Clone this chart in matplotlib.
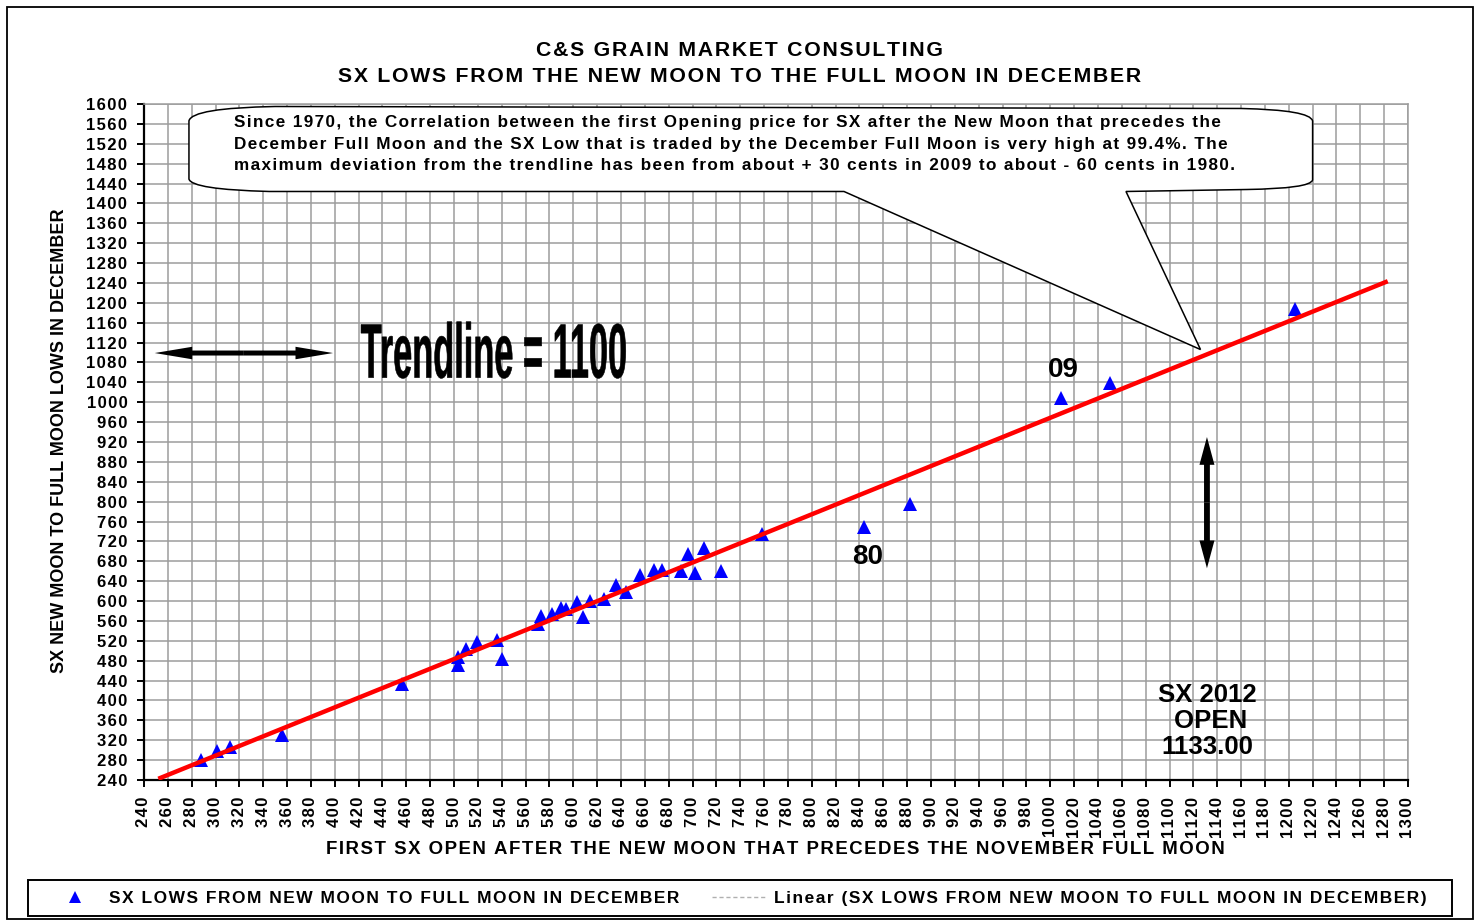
import matplotlib

matplotlib.use("Agg")
import matplotlib.pyplot as plt
import matplotlib.transforms as mtransforms
import numpy as np
from matplotlib.font_manager import FontProperties
from matplotlib.lines import Line2D
from matplotlib.patches import FancyArrowPatch, PathPatch, Rectangle
from matplotlib.path import Path
from matplotlib.textpath import TextPath

OUT_PNG = "out.png"

# first SX open after the new moon (x) vs SX low into the December full moon (y)
sx_open = [288, 301.5, 312, 356, 456, 503, 503, 510, 519, 536, 540, 570, 573,
           582, 590, 594, 603, 608, 614, 626, 636, 644, 656, 668, 674, 690,
           696, 702, 710, 724, 758, 844, 882, 1009, 1050, 1205]
sx_low = [280, 299, 306, 331, 433, 488, 471, 503, 518, 522, 483, 553, 570,
          574, 587, 585, 599, 567, 601, 604, 632, 619, 652, 662, 662, 661,
          694, 657, 706, 660, 734, 748, 796, 1008, 1039, 1188]

# linear trendline is drawn with a backward / forward forecast
trend_x = [252, 1283]

x_ticks = list(range(240, 1301, 20))
y_ticks = list(range(240, 1601, 40))

title_lines = ["C&S GRAIN MARKET CONSULTING",
               "SX LOWS FROM THE NEW MOON TO THE FULL MOON IN DECEMBER"]
x_title = "FIRST SX OPEN AFTER THE NEW MOON THAT PRECEDES THE NOVEMBER FULL MOON"
y_title = "SX NEW MOON TO FULL MOON LOWS IN DECEMBER"
series_name = "SX LOWS FROM NEW MOON TO FULL MOON IN DECEMBER"
note_lines = [
    "Since 1970, the Correlation between the first Opening price for SX after the New Moon that precedes the",
    "December Full Moon and the SX Low that is traded by the December Full Moon is very high at 99.4%. The",
    "maximum deviation from the trendline has been from about + 30 cents in 2009 to about - 60 cents in 1980.",
]

FONT = ["Liberation Sans", "DejaVu Sans"]
HAIR = "\u200a"


def spaced(text, gap=HAIR):
    return gap.join(text)


def draw_bubble(ax):
    verts = [
        (277.7, 1566), (280, 1592), (350, 1595),
        (1160, 1591),
        (1218, 1588), (1220, 1566),
        (1220, 1447),
        (1218, 1430), (1165, 1428),
        (1063.5, 1424),
        (1126, 1106),
        (827, 1424),
        (345, 1424),
        (280, 1428), (277.7, 1449),
        (277.7, 1566),
    ]
    codes = [Path.MOVETO, Path.CURVE3, Path.CURVE3,
             Path.LINETO,
             Path.CURVE3, Path.CURVE3,
             Path.LINETO,
             Path.CURVE3, Path.CURVE3,
             Path.LINETO, Path.LINETO, Path.LINETO, Path.LINETO,
             Path.CURVE3, Path.CURVE3,
             Path.CLOSEPOLY]
    ax.add_patch(PathPatch(Path(verts, codes), facecolor="white", edgecolor="black",
                           lw=1.1, zorder=3, clip_on=False))
    ax.text(315.5, 1519.5, "\n".join(spaced(s) for s in note_lines), ha="left", va="center",
            fontsize=12.3, fontweight="bold", family=FONT, linespacing=1.58, zorder=4)


def draw_squeezed_text(ax, text, x0, x1, y0, y1):
    # word-art style text: squeezed horizontally into a fixed box
    tp = TextPath((0, 0), text, size=100, prop=FontProperties(family="Liberation Sans", weight="bold"))
    ext = tp.get_extents()
    tr = (mtransforms.Affine2D().translate(-ext.x0, -ext.y0)
          .scale((x1 - x0) / ext.width, (y1 - y0) / ext.height)
          .translate(x0, y0) + ax.transData)
    ax.add_patch(PathPatch(tp, transform=tr, facecolor="black", edgecolor="black", lw=0.4, zorder=5))


def double_arrow(ax, p0, p1, head_length, head_width, tail_width):
    mid = ((p0[0] + p1[0]) / 2, (p0[1] + p1[1]) / 2)
    style = f"simple,head_length={head_length},head_width={head_width},tail_width={tail_width}"
    for end in (p0, p1):
        ax.add_patch(FancyArrowPatch(mid, end, arrowstyle=style, mutation_scale=10,
                                     shrinkA=0, shrinkB=0, lw=0, color="black", zorder=5))


def main():
    fig = plt.figure(figsize=(14.79, 9.24), dpi=100)
    ax = fig.add_axes([144 / 1479, 1 - 780 / 924, (1408 - 144) / 1479, (780 - 104) / 924])

    ax.set_xlim(240, 1300)
    ax.set_ylim(240, 1600)
    ax.set_xticks(x_ticks)
    ax.set_yticks(y_ticks)
    ax.set_xticklabels([spaced(str(v)) for v in x_ticks], rotation=90,
                       fontsize=12, fontweight="bold", family=FONT)
    ax.set_yticklabels([spaced(str(v)) for v in y_ticks],
                       fontsize=12, fontweight="bold", family=FONT)
    ax.tick_params(direction="out", length=5, width=1.4, color="black", pad=7)
    ax.grid(True, color="#9c9c9c", lw=1.1)
    ax.set_axisbelow(True)
    for side in ["top", "right"]:
        ax.spines[side].set_color("#9c9c9c")
        ax.spines[side].set_linewidth(1.1)
    for side in ["left", "bottom"]:
        ax.spines[side].set_color("black")
        ax.spines[side].set_linewidth(1.6)

    ax.plot(sx_open, sx_low, ls="none", marker="^", ms=10, color="#0000FF",
            markeredgewidth=0, zorder=4, clip_on=False)

    slope, intercept = np.polyfit(sx_open, sx_low, 1)
    trend_y = [slope * v + intercept for v in trend_x]
    ax.plot(trend_x, trend_y, color="#FF0000", lw=3.2, solid_capstyle="butt", zorder=5)

    draw_bubble(ax)
    draw_squeezed_text(ax, "Trendline = 1100", 422, 644, 1048, 1162)

    double_arrow(ax, (249, 1099), (398.5, 1099), 2.7, 0.9, 0.36)
    double_arrow(ax, (1131.4, 930), (1131.4, 666), 2.0, 1.08, 0.42)

    ax.text(1010.6, 1065, "09", ha="center", va="center", fontsize=20,
            fontweight="bold", family=FONT, zorder=6)
    ax.text(847, 688.7, "80", ha="center", va="center", fontsize=20,
            fontweight="bold", family=FONT, zorder=6)
    ax.text(1131.4, 358.7, "SX 2012\n OPEN\n1133.00", ha="center", va="center",
            fontsize=18.5, fontweight="bold", family=FONT, linespacing=1.12, zorder=6)

    fig.text(0.5003, 1 - 50 / 924, spaced(title_lines[0]), ha="center", va="center",
             fontsize=15.3, fontweight="bold", family=FONT)
    fig.text(0.5003, 1 - 76 / 924, spaced(title_lines[1]), ha="center", va="center",
             fontsize=15.3, fontweight="bold", family=FONT)
    fig.text(775 / 1479, 1 - 850 / 924, spaced(x_title), ha="center", va="center",
             fontsize=13.4, fontweight="bold", family=FONT)
    fig.text(60 / 1479, 1 - 441 / 924, y_title, ha="center", va="center", rotation=90,
             fontsize=13, fontweight="bold", family=FONT)

    handles = [
        Line2D([], [], ls="none", marker="^", ms=9, color="#0000FF", markeredgewidth=0),
        Line2D([], [], ls=(0, (3, 2)), lw=1, color="#b0b0b0"),
    ]
    labels = [spaced(series_name), spaced("Linear (" + series_name + ")")]
    fig.legend(handles, labels, loc="center", bbox_to_anchor=(737 / 1479, 1 - 898 / 924),
               ncol=2, frameon=False, handlelength=3.1, columnspacing=1.85,
               handletextpad=0.46, prop=FontProperties(family=FONT, weight="bold", size=12.5))
    fig.patches.append(Rectangle((28 / 1479, 1 - 916 / 924), 1424 / 1479, 36 / 924,
                                 transform=fig.transFigure, fill=False, edgecolor="black",
                                 lw=1.4))

    fig.patches.append(Rectangle((7 / 1479, 1 - 919 / 924), 1466 / 1479, 912 / 924,
                                 transform=fig.transFigure, fill=False, edgecolor="black",
                                 lw=1.3))

    fig.savefig(OUT_PNG, dpi=100)


if __name__ == "__main__":
    main()
